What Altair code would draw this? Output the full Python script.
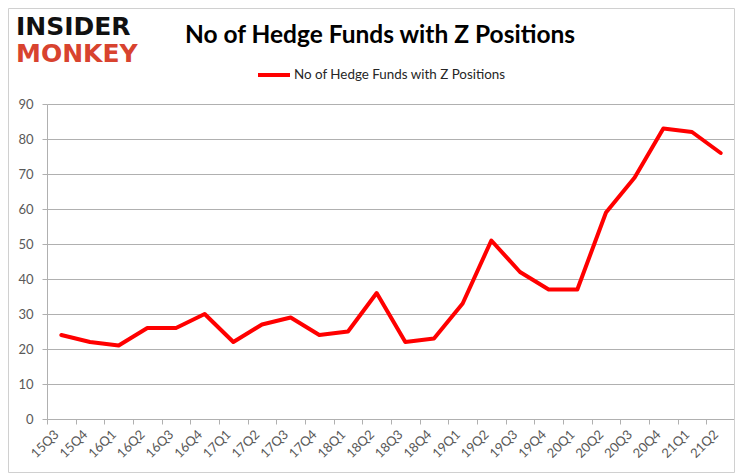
import altair as alt
import pandas as pd

quarters = ["15Q3", "15Q4", "16Q1", "16Q2", "16Q3", "16Q4", "17Q1", "17Q2",
            "17Q3", "17Q4", "18Q1", "18Q2", "18Q3", "18Q4", "19Q1", "19Q2",
            "19Q3", "19Q4", "20Q1", "20Q2", "20Q3", "20Q4", "21Q1", "21Q2"]
funds = [24, 22, 21, 26, 26, 30, 22, 27, 29, 24, 25, 36, 22, 23, 33, 51,
         42, 37, 37, 59, 69, 83, 82, 76]
series_name = "No of Hedge Funds with Z Positions"
chart_title = ["No of Hedge Funds with Z Positions"]
y_ticks = [0, 10, 20, 30, 40, 50, 60, 70, 80, 90]
logo_top = ["INSIDER"]
logo_bottom = ["MONKEY"]

df = pd.DataFrame({"quarter": quarters, "funds": funds, "series": series_name})

W, H = 688, 315
PAD_L, PAD_T, PAD_R, PAD_B = 39, 96, 0, 55
FONT = "Lato"
GRAY_TXT = "#595959"
GRID = "#b0b0b0"

line = alt.Chart(df).mark_line(strokeWidth=4, strokeJoin="round", strokeCap="round").encode(
    x=alt.X("quarter:O", sort=quarters,
            scale=alt.Scale(paddingInner=0, paddingOuter=0),
            axis=alt.Axis(title=None, labelAngle=315, labelAlign="right",
                          labelBaseline="middle", tickBand="extent", grid=False,
                          labelPadding=8, labelOffset=-5, tickSize=5,
                          domainColor=GRID, tickColor=GRID)),
    y=alt.Y("funds:Q", scale=alt.Scale(domain=[0, 90], nice=False),
            axis=alt.Axis(title=None, values=y_ticks, grid=True, gridColor=GRID,
                          domainColor=GRID, tickColor=GRID, tickSize=5,
                          labelPadding=9)),
    color=alt.Color("series:N",
                    scale=alt.Scale(domain=[series_name], range=["#ff0000"]),
                    legend=alt.Legend(title=None, orient="none", legendX=209, legendY=-47,
                                      symbolType="stroke", symbolSize=1024,
                                      symbolStrokeWidth=4, labelOffset=2,
                                      labelFontSize=13.4, labelFont=FONT,
                                      labelLimit=0, labelColor="#262626")),
)

title = alt.Chart(pd.DataFrame({"t": chart_title})).mark_text(
    font=FONT, fontWeight="bold", fontSize=24.5, align="center",
    baseline="alphabetic", color="#000000"
).encode(text="t:N", x=alt.value(333), y=alt.value(-61))

logo1 = alt.Chart(pd.DataFrame({"t": logo_top})).mark_text(
    font="DejaVu Sans", fontWeight="bold", fontSize=25, align="left",
    baseline="alphabetic", color="#111111"
).encode(text="t:N", x=alt.value(-31), y=alt.value(-69))

logo2 = alt.Chart(pd.DataFrame({"t": logo_bottom})).mark_text(
    font="DejaVu Sans", fontWeight="bold", fontSize=25, align="left",
    baseline="alphabetic", color="#d8432f"
).encode(text="t:N", x=alt.value(-31), y=alt.value(-42))

frame = alt.Chart(pd.DataFrame({"a": [0]})).mark_rect(
    fill=None, stroke="#d0d0d0", strokeWidth=1
).encode(x=alt.value(-38.5), x2=alt.value(W - 0.5),
         y=alt.value(-95.5), y2=alt.value(H + PAD_B - 1.5))

chart = alt.layer(frame, line, title, logo1, logo2).properties(
    width=W, height=H,
    autosize=alt.AutoSizeParams(type="none"),
    padding={"left": PAD_L, "top": PAD_T, "right": PAD_R, "bottom": PAD_B},
).configure_view(stroke=None).configure_axis(
    labelFont=FONT, labelFontSize=13, labelColor=GRAY_TXT
)

chart.save("out.html", embed_options={"renderer": "svg", "actions": False})
